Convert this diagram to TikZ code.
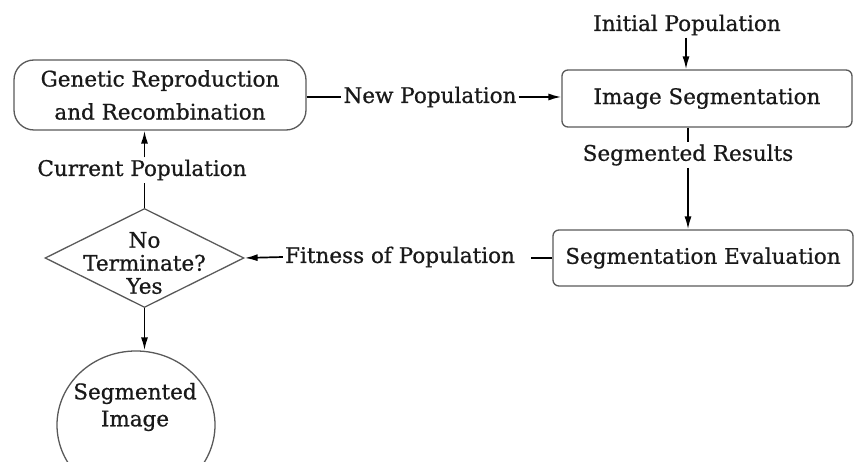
\documentclass[tikz,border=0pt]{standalone}
\usepackage{fontspec}
\setmainfont{DejaVu Serif}[FakeBold=0.8]
\usetikzlibrary{shapes.geometric,arrows.meta}
\begin{document}
\begin{tikzpicture}[x=1pt,y=-1pt,
  every node/.style={font=\fontsize{21.5}{33}\selectfont, text=black!90},
  boxline/.style={draw=black!65, line width=1.3pt},
  genbox/.style={boxline, rounded corners=20pt, align=center, inner sep=0pt},
  procbox/.style={boxline, rounded corners=6pt, align=center, inner sep=0pt},
  lbl/.style={inner sep=2pt},
  conn/.style={draw=black, line width=1.7pt},
  arr/.style={conn, -{Latex[length=13pt,width=7pt]}}
]
\useasboundingbox (0,0) rectangle (854,462);
\node[genbox, minimum width=292pt, minimum height=70pt] (gen) at (160,95) {Genetic Reproduction\\and Recombination};
\node[procbox, minimum width=290pt, minimum height=57pt] (seg) at (707,98.5) {Image Segmentation};
\node[procbox, minimum width=300pt, minimum height=56pt] (eval) at (703,258) {Segmentation Evaluation};
\node[boxline, diamond, minimum width=199pt, minimum height=99pt, inner sep=0pt] (dec) at (144.5,258) {};
\node[align=center, font=\fontsize{21.5}{23}\selectfont] (dectext) at (144.5,263) {No\\Terminate?\\Yes};
\node[boxline, ellipse, minimum width=158pt, minimum height=148pt, inner sep=0pt] (img) at (136,425) {};
\node[align=center, font=\fontsize{21.5}{27}\selectfont] (imgtext) at (135,407) {Segmented\\Image};
\node[lbl] (init) at (687,25) {Initial Population};
\node[lbl] (newp) at (430,97) {New Population};
\node[lbl] (curp) at (142,170) {Current Population};
\node[lbl] (segres) at (688,155) {Segmented Results};
\node[lbl] (fit) at (400,257) {Fitness of Population};
% connectors
\draw[arr] (init.south -| 686,0) -- (seg.north -| 686,0);
\draw[conn] (gen.east |- newp) -- (newp.west);
\draw[arr] (newp.east) -- (seg.west |- newp);
\draw[conn] (seg.south -| segres) -- (segres.north);
\draw[arr] (segres.south) -- (eval.north -| segres);
\draw[conn] (eval.west) -- ([xshift=-21pt]eval.west) coordinate (fitend);
\draw[arr] (fit.west) -- (dec.east);
\draw[conn] (dec.north) -- (curp.south -| dec.north);
\draw[arr] (curp.north -| dec.north) -- (gen.south -| dec.north);
\draw[arr] (dec.south) -- (dec.south |- img.north);
\end{tikzpicture}
\end{document}
